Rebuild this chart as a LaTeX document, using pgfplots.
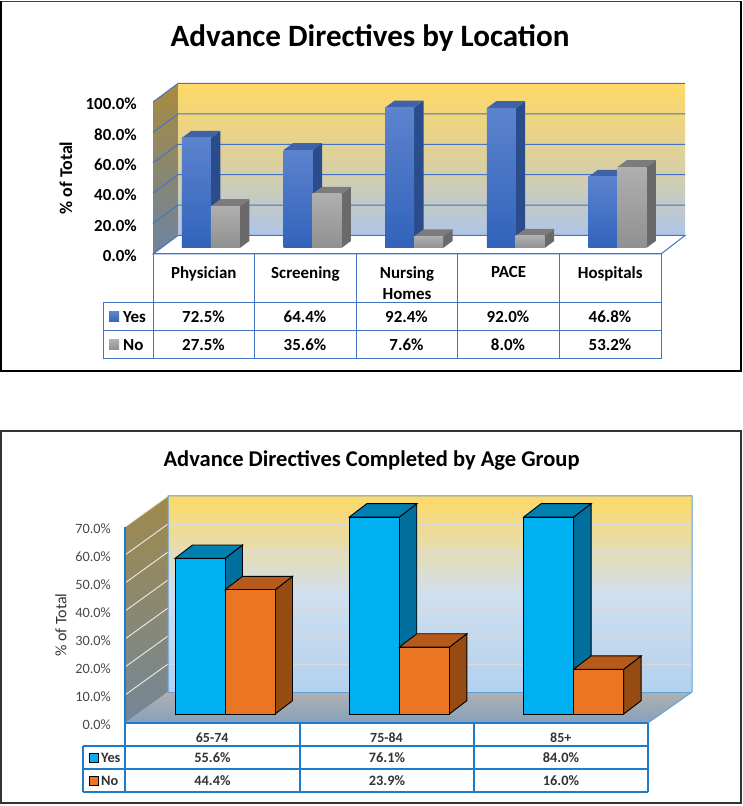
\documentclass[border=0pt]{standalone}
\usepackage{fontspec}
\setmainfont{Carlito}
\usepackage{pgfplots}
\pgfplotsset{compat=1.18}
\pgfplotsset{every axis title shift=0pt}

% top chart colours
\definecolor{gridblue}{HTML}{4472C4}
\definecolor{wallyel}{HTML}{FFD966}
\definecolor{wallmid}{HTML}{DCD09C}
\definecolor{wallblue}{HTML}{AFC5E8}
\definecolor{sidetop}{HTML}{A88B3E}
\definecolor{sidebot}{HTML}{6D83A0}
\definecolor{yesA}{HTML}{5C83CE}
\definecolor{yesB}{HTML}{3163BB}
\definecolor{yesS}{HTML}{2A4C8C}
\definecolor{yesT}{HTML}{3F62A8}
\definecolor{noA}{HTML}{AFAFAF}
\definecolor{noB}{HTML}{909090}
\definecolor{noS}{HTML}{6A6A6A}
\definecolor{noT}{HTML}{7C7C7C}
% bottom chart colours
\definecolor{line2}{HTML}{1C7CCB}
\definecolor{wallmidB}{HTML}{D0DFEE}
\definecolor{wallblueB}{HTML}{B3D1EE}
\definecolor{sidetopB}{HTML}{A08A4A}
\definecolor{sidebotB}{HTML}{758699}
\definecolor{floorA}{HTML}{B0B0B0}
\definecolor{floorB}{HTML}{86A0BC}
\definecolor{gridB}{HTML}{D8DADF}
\definecolor{cyanF}{HTML}{00B0F0}
\definecolor{cyanS}{HTML}{006F9E}
\definecolor{cyanT}{HTML}{0080B0}
\definecolor{orgF}{HTML}{EA7522}
\definecolor{orgS}{HTML}{964B13}
\definecolor{orgT}{HTML}{B55A1A}
\definecolor{txt2}{HTML}{333333}

% one bar: left x, right x, value, front style, side style, top style
\newcommand{\threedbar}[6]{%
  \pgfmathsetmacro{\ytop}{\bbase+min(#3,\yclip)}%
  \pgfmathsetmacro{\xb}{#2+\bdx}%
  \pgfmathsetmacro{\xc}{#1+\bdx}%
  \pgfmathsetmacro{\yb}{\bbase+\bdy}%
  \pgfmathsetmacro{\yc}{\ytop+\bdy}%
  \addplot[#5] coordinates {(#2,\bbase) (\xb,\yb) (\xb,\yc) (#2,\ytop)} -- cycle;
  \addplot[#6] coordinates {(#1,\ytop) (#2,\ytop) (\xb,\yc) (\xc,\yc)} -- cycle;
  \addplot[#4] coordinates {(#1,\bbase) (#2,\bbase) (#2,\ytop) (#1,\ytop)} -- cycle;
}
% category index, yes value, no value
\newcommand{\groupA}[3]{%
  \pgfmathsetmacro{\xa}{#1+0.285}\pgfmathsetmacro{\xm}{#1+0.57}\pgfmathsetmacro{\xe}{#1+0.855}%
  \edef\doit{\noexpand\threedbar{\xa}{\xm}{#2}{draw=none,top color=yesA,bottom color=yesB}{draw=none,fill=yesS}{draw=none,fill=yesT}}\doit
  \pgfmathsetmacro{\xa}{#1+0.285}\pgfmathsetmacro{\xm}{#1+0.57}\pgfmathsetmacro{\xe}{#1+0.855}%
  \edef\doit{\noexpand\threedbar{\xm}{\xe}{#3}{draw=none,top color=noA,bottom color=noB}{draw=none,fill=noS}{draw=none,fill=noT}}\doit
}
\newcommand{\groupB}[3]{%
  \pgfmathsetmacro{\xa}{#1+0.287}\pgfmathsetmacro{\xm}{#1+0.574}\pgfmathsetmacro{\xe}{#1+0.861}%
  \edef\doit{\noexpand\threedbar{\xa}{\xm}{#2}{draw=black,line width=0.9bp,fill=cyanF}{draw=black,line width=0.9bp,fill=cyanS}{draw=black,line width=0.9bp,fill=cyanT}}\doit
  \pgfmathsetmacro{\xa}{#1+0.287}\pgfmathsetmacro{\xm}{#1+0.574}\pgfmathsetmacro{\xe}{#1+0.861}%
  \edef\doit{\noexpand\threedbar{\xm}{\xe}{#3}{draw=black,line width=0.9bp,fill=orgF}{draw=black,line width=0.9bp,fill=orgS}{draw=black,line width=0.9bp,fill=orgT}}\doit
}

\begin{document}
\begin{tikzpicture}
\useasboundingbox (0,0) rectangle (743bp,806bp);

% ---------- top chart ----------
\begin{axis}[
  at={(153bp,552bp)}, anchor=south west,
  scale only axis, width=532bp, height=171bp,
  xmin=0, xmax=5.236, ymin=0, ymax=112.5,
  clip=false,
  axis line style={draw=none},
  tick style={draw=none},
  xtick={0.5,1.5,2.5,3.5,4.5},
  xticklabels={Physician,Screening,{Nursing\\Homes},PACE,Hospitals},
  xticklabel style={font=\fontsize{17}{21}\selectfont\bfseries, align=center, anchor=north, yshift=-9bp},
  ytick={0,20,40,60,80,100},
  yticklabels={0.0\%,20.0\%,40.0\%,60.0\%,80.0\%,100.0\%},
  yticklabel style={font=\fontsize{17}{20}\selectfont\bfseries, anchor=east, inner xsep=0pt, xshift=-16bp, yshift=-2bp},
  ylabel={\% of Total},
  ylabel style={font=\fontsize{18}{20}\selectfont\bfseries, at={(axis description cs:-0.1635,0.444)}, anchor=center},
  title={Advance Directives by Location},
  title style={font=\fontsize{31.2}{36}\selectfont\bfseries, at={(axis description cs:0.408,1.263)}, anchor=center},
]
  % walls and floor
  \addplot[draw=none,top color=wallyel,bottom color=wallblue,middle color=wallmid] coordinates {(0.246,12.17) (5.236,12.17) (5.236,112.17) (0.246,112.17)} -- cycle;
  \addplot[draw=none,top color=sidetop,bottom color=sidebot] coordinates {(0,0) (0.246,12.17) (0.246,112.17) (0,100)} -- cycle;
  \addplot[draw=gridblue,line width=1bp,fill=white] coordinates {(0,0) (5,0) (5.236,12.17) (0.246,12.17)} -- cycle;
  % grid on back and side wall
  \addplot[gridblue,line width=1bp] coordinates {(0,20) (0.246,32.17) (5.236,32.17)};
  \addplot[gridblue,line width=1bp] coordinates {(0,40) (0.246,52.17) (5.236,52.17)};
  \addplot[gridblue,line width=1bp] coordinates {(0,60) (0.246,72.17) (5.236,72.17)};
  \addplot[gridblue,line width=1bp] coordinates {(0,80) (0.246,92.17) (5.236,92.17)};
  \addplot[gridblue,line width=1bp] coordinates {(0,100) (0.246,112.17) (5.236,112.17)};
  % bars
  \def\bbase{3.95}\def\bdx{0.0935}\def\bdy{4.6}\def\yclip{200}
  \groupA{0}{72.5}{27.5}
  \groupA{1}{64.4}{35.6}
  \groupA{2}{92.4}{7.6}
  \groupA{3}{92.0}{8.0}
  \groupA{4}{46.8}{53.2}
\end{axis}

% ---------- bottom chart ----------
\begin{axis}[
  at={(125bp,83bp)}, anchor=south west,
  scale only axis, width=567bp, height=228bp,
  xmin=0, xmax=3.253, ymin=0, ymax=81.43,
  clip=false,
  axis line style={draw=none},
  tick style={draw=none},
  xtick={0.5,1.5,2.5},
  xticklabels={65-74,75-84,85+},
  xticklabel style={font=\fontsize{14}{16}\selectfont\bfseries, text=txt2, anchor=north, yshift=-6bp},
  ytick={0,10,20,30,40,50,60,70},
  yticklabels={0.0\%,10.0\%,20.0\%,30.0\%,40.0\%,50.0\%,60.0\%,70.0\%},
  yticklabel style={font=\fontsize{14.3}{16}\selectfont, text=txt2!90!white, anchor=east, inner xsep=0pt, xshift=-14bp, yshift=-2bp},
  ylabel={\% of Total},
  ylabel style={font=\fontsize{16}{18}\selectfont, text=txt2, at={(axis description cs:-0.113,0.43)}, anchor=center},
  title={Advance Directives Completed by Age Group},
  title style={font=\fontsize{22.6}{26}\selectfont\bfseries, at={(axis description cs:0.435,1.153)}, anchor=center},
]
  % walls and floor
  \addplot[draw=none,top color=wallyel,bottom color=wallblueB,middle color=wallmidB] coordinates {(0.2467,11.07) (3.253,11.07) (3.253,81.07) (0.2467,81.07)} -- cycle;
  \addplot[draw=none,top color=sidetopB,bottom color=sidebotB] coordinates {(0,0) (0.2467,11.07) (0.2467,81.07) (0,70)} -- cycle;
  \addplot[draw=none,top color=floorA,bottom color=floorB] coordinates {(0,0) (3,0) (3.253,11.07) (0.2467,11.07)} -- cycle;
  % grid: white on the side wall, faint grey on the back
  \addplot[gridB,line width=0.9bp] coordinates {(0.2467,21.07) (3.253,21.07)};
  \addplot[gridB,line width=0.9bp] coordinates {(0.2467,31.07) (3.253,31.07)};
  \addplot[gridB,line width=0.9bp] coordinates {(0.2467,41.07) (3.253,41.07)};
  \addplot[gridB,line width=0.9bp] coordinates {(0.2467,51.07) (3.253,51.07)};
  \addplot[gridB,line width=0.9bp] coordinates {(0.2467,61.07) (3.253,61.07)};
  \addplot[gridB,line width=0.9bp] coordinates {(0.2467,71.07) (3.253,71.07)};
  \addplot[white!85!gray,line width=0.9bp] coordinates {(0,10) (0.2467,21.07)};
  \addplot[white!85!gray,line width=0.9bp] coordinates {(0,20) (0.2467,31.07)};
  \addplot[white!85!gray,line width=0.9bp] coordinates {(0,30) (0.2467,41.07)};
  \addplot[white!85!gray,line width=0.9bp] coordinates {(0,40) (0.2467,51.07)};
  \addplot[white!85!gray,line width=0.9bp] coordinates {(0,50) (0.2467,61.07)};
  \addplot[white!85!gray,line width=0.9bp] coordinates {(0,60) (0.2467,71.07)};
  \addplot[white!85!gray,line width=0.9bp] coordinates {(0,70) (0.2467,81.07)};
  % wall outline
  \addplot[line2!70!white,line width=1bp] coordinates {(0.2467,11.07) (0.2467,81.07) (3.253,81.07) (3.253,11.07) (3,0)};
  \addplot[line2!70!white,line width=1bp] coordinates {(0.2467,11.07) (3.253,11.07)};
  \addplot[line2,line width=1.2bp] coordinates {(0,0) (0,70)};
  % bars, the two tall ones stop at the top of the axis as in the source
  \def\bbase{3.2}\def\bdx{0.1}\def\bdy{4.76}\def\yclip{70.36}
  \groupB{0}{55.6}{44.4}
  \groupB{1}{76.1}{23.9}
  \groupB{2}{84.0}{16.0}
\end{axis}

% ---------- frames and data tables, in picture pixels ----------
\begin{scope}[x=1bp,y=-1bp,yshift=806bp]
  \draw[black!75,line width=1.2bp] (1,1.2) -- (741,1.2);
  \draw[black,line width=2bp] (1,1) -- (1,371) -- (741,371) -- (741,1);
  \draw[black!80,line width=1.5bp] (1,431) rectangle (741,803);

  % top table
  \draw[gridblue,line width=1bp] (153,254) -- (153,359) (254,254) -- (254,359) (356,254) -- (356,359) (457,254) -- (457,359) (559,254) -- (559,359) (661,254) -- (661,359);
  \draw[gridblue,line width=1bp] (103,303) -- (661,303) (103,331) -- (661,331) (103,359) -- (661,359) (103,303) -- (103,359) (153,254) -- (661,254);
  \fill[top color=yesA,bottom color=yesB] (109,312) rectangle (119,322);
  \fill[top color=noA,bottom color=noB] (109,340) rectangle (119,350);
  \begin{scope}[every node/.style={font=\fontsize{17}{20}\selectfont\bfseries}]
    \node[anchor=west,inner sep=0pt] at (123,317) {Yes};
    \node[anchor=west,inner sep=0pt] at (123,345) {No};
    \node at (203.5,317) {72.5\%}; \node at (305,317) {64.4\%}; \node at (406.5,317) {92.4\%}; \node at (508,317) {92.0\%}; \node at (610,317) {46.8\%};
    \node at (203.5,345) {27.5\%}; \node at (305,345) {35.6\%}; \node at (406.5,345) {7.6\%}; \node at (508,345) {8.0\%}; \node at (610,345) {53.2\%};
  \end{scope}

  % bottom table
  \draw[line2,line width=1.3bp] (125,723) -- (648,723) (83,746) -- (648,746) (83,769) -- (648,769) (83,792) -- (648,792);
  \draw[line2,line width=1.3bp] (83,746) -- (83,792) (125,723) -- (125,792) (300,723) -- (300,792) (474,723) -- (474,792) (648,723) -- (648,792);
  \draw[black,line width=0.8bp,fill=cyanF] (89,753) rectangle (98,762);
  \draw[black,line width=0.8bp,fill=orgF] (89,776) rectangle (98,785);
  \begin{scope}[every node/.style={font=\fontsize{14.4}{17}\selectfont\bfseries,text=txt2}]
    \node[anchor=west,inner sep=0pt] at (101,757.5) {Yes};
    \node[anchor=west,inner sep=0pt] at (101,780.5) {No};
    \node at (212.5,757.5) {55.6\%}; \node at (387,757.5) {76.1\%}; \node at (561,757.5) {84.0\%};
    \node at (212.5,780.5) {44.4\%}; \node at (387,780.5) {23.9\%}; \node at (561,780.5) {16.0\%};
  \end{scope}
\end{scope}
\end{tikzpicture}
\end{document}
